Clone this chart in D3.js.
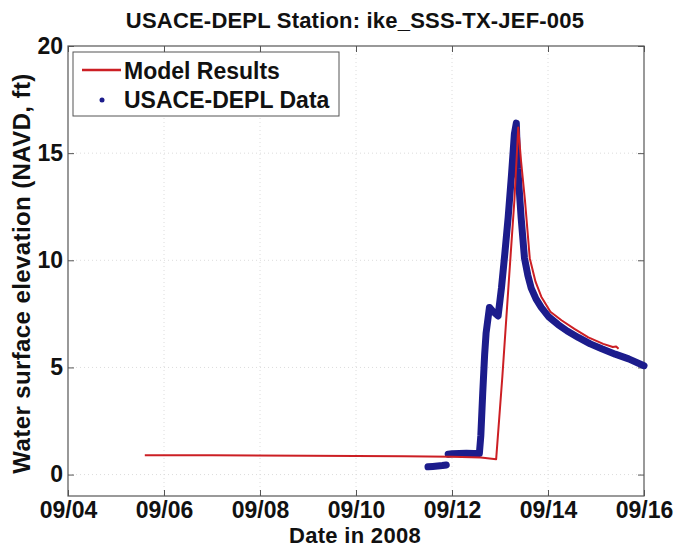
<!DOCTYPE html>
<html>
<head>
<meta charset="utf-8">
<script src="https://cdn.jsdelivr.net/npm/d3@7"></script>
<style>
  html, body { margin: 0; padding: 0; background: #fff; }
  svg { display: block; font-family: "Liberation Sans", Arial, sans-serif; }
</style>
</head>
<body>
<svg id="chart" width="676" height="550"></svg>
<script>
// Time in days of September 2008, water level in ft (NAVD)
const modelDays = [5.6, 7.0, 9.0, 11.0, 12.0, 12.6, 12.92, 13.05, 13.18, 13.30, 13.38, 13.44, 13.52, 13.62, 13.74, 13.86, 14.05, 14.28, 14.55, 14.84, 15.15, 15.35, 15.42, 15.47];
const modelLevels = [0.9, 0.9, 0.88, 0.86, 0.83, 0.8, 0.72, 4.6, 8.9, 12.8, 16.2, 14.6, 12.8, 10.1, 9.0, 8.3, 7.6, 7.2, 6.8, 6.4, 6.1, 5.95, 5.98, 5.87];

// Observed gauge record (null marks a gap in the record)
const obsDays = [11.50, 11.60, 11.70, 11.80, 11.88, null, 11.92, 12.00, 12.15, 12.30, 12.45, 12.57, 12.60, 12.64, 12.68, 12.71, 12.78, 12.86, 12.96, 13.03, 13.10, 13.17, 13.24, 13.30, 13.34, 13.37, 13.44, 13.51, 13.58, 13.65, 13.75, 13.86, 14.02, 14.21, 14.40, 14.63, 14.88, 15.12, 15.40, 15.68, 16.0];
const obsLevels = [0.36, 0.38, 0.40, 0.42, 0.45, null, 0.95, 0.97, 0.98, 0.99, 0.98, 0.98, 1.8, 3.8, 5.6, 6.6, 7.8, 7.6, 7.4, 8.7, 10.3, 12.0, 14.0, 15.9, 16.4, 14.3, 12.0, 10.1, 9.3, 8.7, 8.2, 7.8, 7.35, 7.0, 6.7, 6.4, 6.1, 5.87, 5.62, 5.4, 5.08];

const xTicks = [4, 6, 8, 10, 12, 14, 16];
const yTicks = [0, 5, 10, 15, 20];

const titleText = "USACE-DEPL Station: ike_SSS-TX-JEF-005";
const xLabel = "Date in 2008";
const yLabel = "Water surface elevation (NAVD, ft)";
const legendNames = ["Model Results", "USACE-DEPL Data"];

const modelColor = "#cc1f24";
const obsColor = "#1c1c8c";

const svg = d3.select("#chart");
const m = { left: 68, right: 644, top: 46, bottom: 496 };

const x = d3.scaleLinear().domain([4, 16]).range([m.left, m.right]);
const y = d3.scaleLinear().domain([-1, 20]).range([m.bottom, m.top]);

// light dotted grid
const grid = svg.append("g").attr("stroke", "#dcdcdc").attr("stroke-dasharray", "1,3").attr("stroke-width", 1);
xTicks.slice(1, -1).forEach(t => grid.append("line").attr("x1", x(t)).attr("x2", x(t)).attr("y1", m.top).attr("y2", m.bottom));
yTicks.slice(0, -1).forEach(t => grid.append("line").attr("x1", m.left).attr("x2", m.right).attr("y1", y(t)).attr("y2", y(t)));

// axes with inward ticks on all sides
const fmtDay = d => "09/" + String(d).padStart(2, "0");
const axisStyle = g => {
  g.select(".domain").remove();
  g.selectAll(".tick line").attr("stroke", "#555");
  g.selectAll(".tick text").attr("font-size", 23).attr("font-weight", "bold").attr("fill", "#111");
};
svg.append("g").attr("transform", `translate(0,${m.bottom})`)
  .call(d3.axisBottom(x).tickValues(xTicks).tickFormat(fmtDay).tickSizeInner(-6).tickSizeOuter(0).tickPadding(6))
  .call(axisStyle);
svg.append("g").attr("transform", `translate(0,${m.top})`)
  .call(d3.axisTop(x).tickValues(xTicks).tickFormat("").tickSizeInner(-6).tickSizeOuter(0))
  .call(axisStyle);
svg.append("g").attr("transform", `translate(${m.left},0)`)
  .call(d3.axisLeft(y).tickValues(yTicks).tickSizeInner(-6).tickSizeOuter(0).tickPadding(5))
  .call(axisStyle);
svg.append("g").attr("transform", `translate(${m.right},0)`)
  .call(d3.axisRight(y).tickValues(yTicks).tickFormat("").tickSizeInner(-6).tickSizeOuter(0))
  .call(axisStyle);

svg.append("rect")
  .attr("x", m.left).attr("y", m.top)
  .attr("width", m.right - m.left).attr("height", m.bottom - m.top)
  .attr("fill", "none").attr("stroke", "#555").attr("stroke-width", 1.2);

// series
const modelData = modelDays.map((d, i) => [d, modelLevels[i]]);
const obsData = obsDays.map((d, i) => [d, obsLevels[i]]);

const line = d3.line()
  .defined(d => d[0] !== null && d[1] !== null)
  .x(d => x(d[0])).y(d => y(d[1]));

svg.append("path").datum(obsData)
  .attr("d", line)
  .attr("fill", "none").attr("stroke", obsColor)
  .attr("stroke-width", 7).attr("stroke-linejoin", "round").attr("stroke-linecap", "round");

svg.append("path").datum(modelData)
  .attr("d", line)
  .attr("fill", "none").attr("stroke", modelColor)
  .attr("stroke-width", 2).attr("stroke-linejoin", "round");

// legend
const lg = svg.append("g");
lg.append("rect").attr("x", 73).attr("y", 52).attr("width", 266).attr("height", 64)
  .attr("fill", "#fff").attr("stroke", "#555").attr("stroke-width", 1);
lg.append("line").attr("x1", 82).attr("x2", 121).attr("y1", 70).attr("y2", 70)
  .attr("stroke", modelColor).attr("stroke-width", 2.5);
lg.append("circle").attr("cx", 102).attr("cy", 100).attr("r", 2.5).attr("fill", obsColor);
lg.selectAll("text.leg").data(legendNames).join("text")
  .attr("class", "leg")
  .attr("x", 124).attr("y", (d, i) => 79 + i * 29)
  .attr("font-size", 23).attr("font-weight", "bold").attr("fill", "#111")
  .text(d => d);

// titles
svg.append("text").attr("x", 355).attr("y", 28).attr("text-anchor", "middle")
  .attr("font-size", 22).attr("letter-spacing", 0.2).attr("font-weight", "bold").attr("fill", "#111").text(titleText);
svg.append("text").attr("x", 355).attr("y", 543).attr("text-anchor", "middle")
  .attr("font-size", 22).attr("letter-spacing", 0.3).attr("font-weight", "bold").attr("fill", "#111").text(xLabel);
svg.append("text").attr("transform", `translate(30,${(87 + 460) / 2}) rotate(-90)`)
  .attr("text-anchor", "middle")
  .attr("font-size", 24).attr("letter-spacing", 0.4).attr("font-weight", "bold").attr("fill", "#111").text(yLabel);
</script>
</body>
</html>
